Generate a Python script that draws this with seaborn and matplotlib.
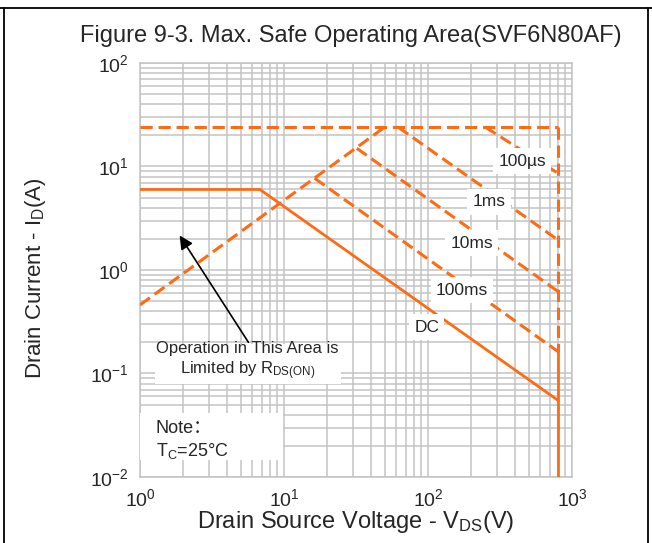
import numpy as np
import pandas as pd
import matplotlib
matplotlib.use("Agg")
import matplotlib.pyplot as plt
import seaborn as sns
from matplotlib.patches import Rectangle
from matplotlib.lines import Line2D

# ---- data ----
vds_pulse_lim = [1.0, 800.0]
id_pulse_lim = [24.0, 24.0]
vds_rds = [1.0, 50.0]
id_rds = [0.46, 24.0]
vds_100us = [250.0, 800.0]
id_100us = [24.0, 8.6]
vds_1ms = [62.0, 800.0]
id_1ms = [24.0, 1.95]
vds_10ms = [32.0, 800.0]
id_10ms = [15.0, 0.62]
vds_100ms = [16.3, 800.0]
id_100ms = [7.7, 0.163]
vds_dc = [1.0, 6.8, 800.0]
id_dc = [6.0, 6.0, 0.055]
vds_bv_pulse = [800.0, 800.0]
id_bv_pulse = [24.0, 0.163]
vds_bv_dc = [800.0, 800.0]
id_bv_dc = [0.163, 0.01]

curve_labels = ["100\u00b5s", "1ms", "10ms", "100ms", "DC"]
label_vds = [450.0, 265.0, 202.0, 172.0, 98.0]
label_id = [11.3, 4.54, 1.82, 0.64, 0.281]

sns.set_style("white")
plt.rcParams["font.family"] = ["Liberation Sans", "Noto Sans CJK SC", "DejaVu Sans"]
plt.rcParams["mathtext.default"] = "regular"
plt.rcParams["axes.unicode_minus"] = False

ORANGE = "#FF6B14"
GRID = "#c3c3c3"

fig = plt.figure(figsize=(6.52, 5.43), dpi=100)
ax = fig.add_axes([140 / 652, 1 - 477 / 543, 432 / 652, 414 / 543])

dash = (0, (4.0, 1.9))
dashed_sets = [
    (vds_pulse_lim, id_pulse_lim),
    (vds_rds, id_rds),
    (vds_100us, id_100us),
    (vds_1ms, id_1ms),
    (vds_10ms, id_10ms),
    (vds_100ms, id_100ms),
    (vds_bv_pulse, id_bv_pulse),
]
for xs, ys in dashed_sets:
    sns.lineplot(x=xs, y=ys, ax=ax, estimator=None, sort=False, color=ORANGE,
                 lw=2.2, linestyle=dash, zorder=3)
for xs, ys in [(vds_dc, id_dc), (vds_bv_dc, id_bv_dc)]:
    sns.lineplot(x=xs, y=ys, ax=ax, estimator=None, sort=False, color=ORANGE,
                 lw=2.0, linestyle="-", zorder=3)

ax.set_xscale("log")
ax.set_yscale("log")
ax.set_xlim(1, 1000)
ax.set_ylim(0.01, 100)
ax.grid(True, which="both", color=GRID, lw=1.1, zorder=0)
ax.set_axisbelow(True)
for s in ax.spines.values():
    s.set_color(GRID)
    s.set_linewidth(1.1)
ax.tick_params(which="both", length=0, labelsize=14, pad=8)

ax.set_xlabel("Drain Source Voltage - V$_{DS}$(V)", fontsize=17, labelpad=-1)
ax.set_ylabel("Drain Current - I$_{D}$(A)", fontsize=16)
ax.yaxis.set_label_coords((48 - 140) / 432, (477 - 278) / 414)
fig.text(351 / 652, 1 - 42 / 543,
         "Figure 9-3. Max. Safe Operating Area(SVF6N80AF)",
         ha="center", va="baseline", fontsize=17)

for t, xv, yv in zip(curve_labels, label_vds, label_id):
    ax.text(xv, yv, t, ha="center", va="center", fontsize=12.5, zorder=5,
            bbox=dict(boxstyle="square,pad=0.3", fc="white", ec="none"))

# note box
ax.add_patch(Rectangle((0.0, 0.041), 0.331, 0.114, transform=ax.transAxes,
                       fc="white", ec="none", zorder=4))
ax.text(0.037, 0.118, "Note\uff1a", transform=ax.transAxes, ha="left", va="center",
        fontsize=13, zorder=5)
ax.text(0.037, 0.064, "T$_{C}$=25\u00b0C", transform=ax.transAxes, ha="left", va="center",
        fontsize=13, zorder=5)

# Rds(on) annotation
ax.annotate("", xy=(1.84, 2.27), xytext=(5.8, 0.19),
            arrowprops=dict(arrowstyle="-|>", color="black", lw=1.2, mutation_scale=20),
            zorder=6)
ax.text(5.6, 0.13, "Operation in This Area is\nLimited by R$_{DS(ON)}$", ha="center",
        va="center", fontsize=12, zorder=5, linespacing=1.25,
        bbox=dict(boxstyle="square,pad=0.1", fc="white", ec="none"))

# outer frame lines
for line in [Line2D([0, 1], [1 - 8 / 543] * 2),
             Line2D([4 / 652] * 2, [0, 1 - 8 / 543]),
             Line2D([648 / 652] * 2, [0, 1 - 8 / 543])]:
    line.set_transform(fig.transFigure)
    line.set_color("black")
    line.set_linewidth(1.3)
    fig.add_artist(line)

fig.savefig("out.png", dpi=100)
